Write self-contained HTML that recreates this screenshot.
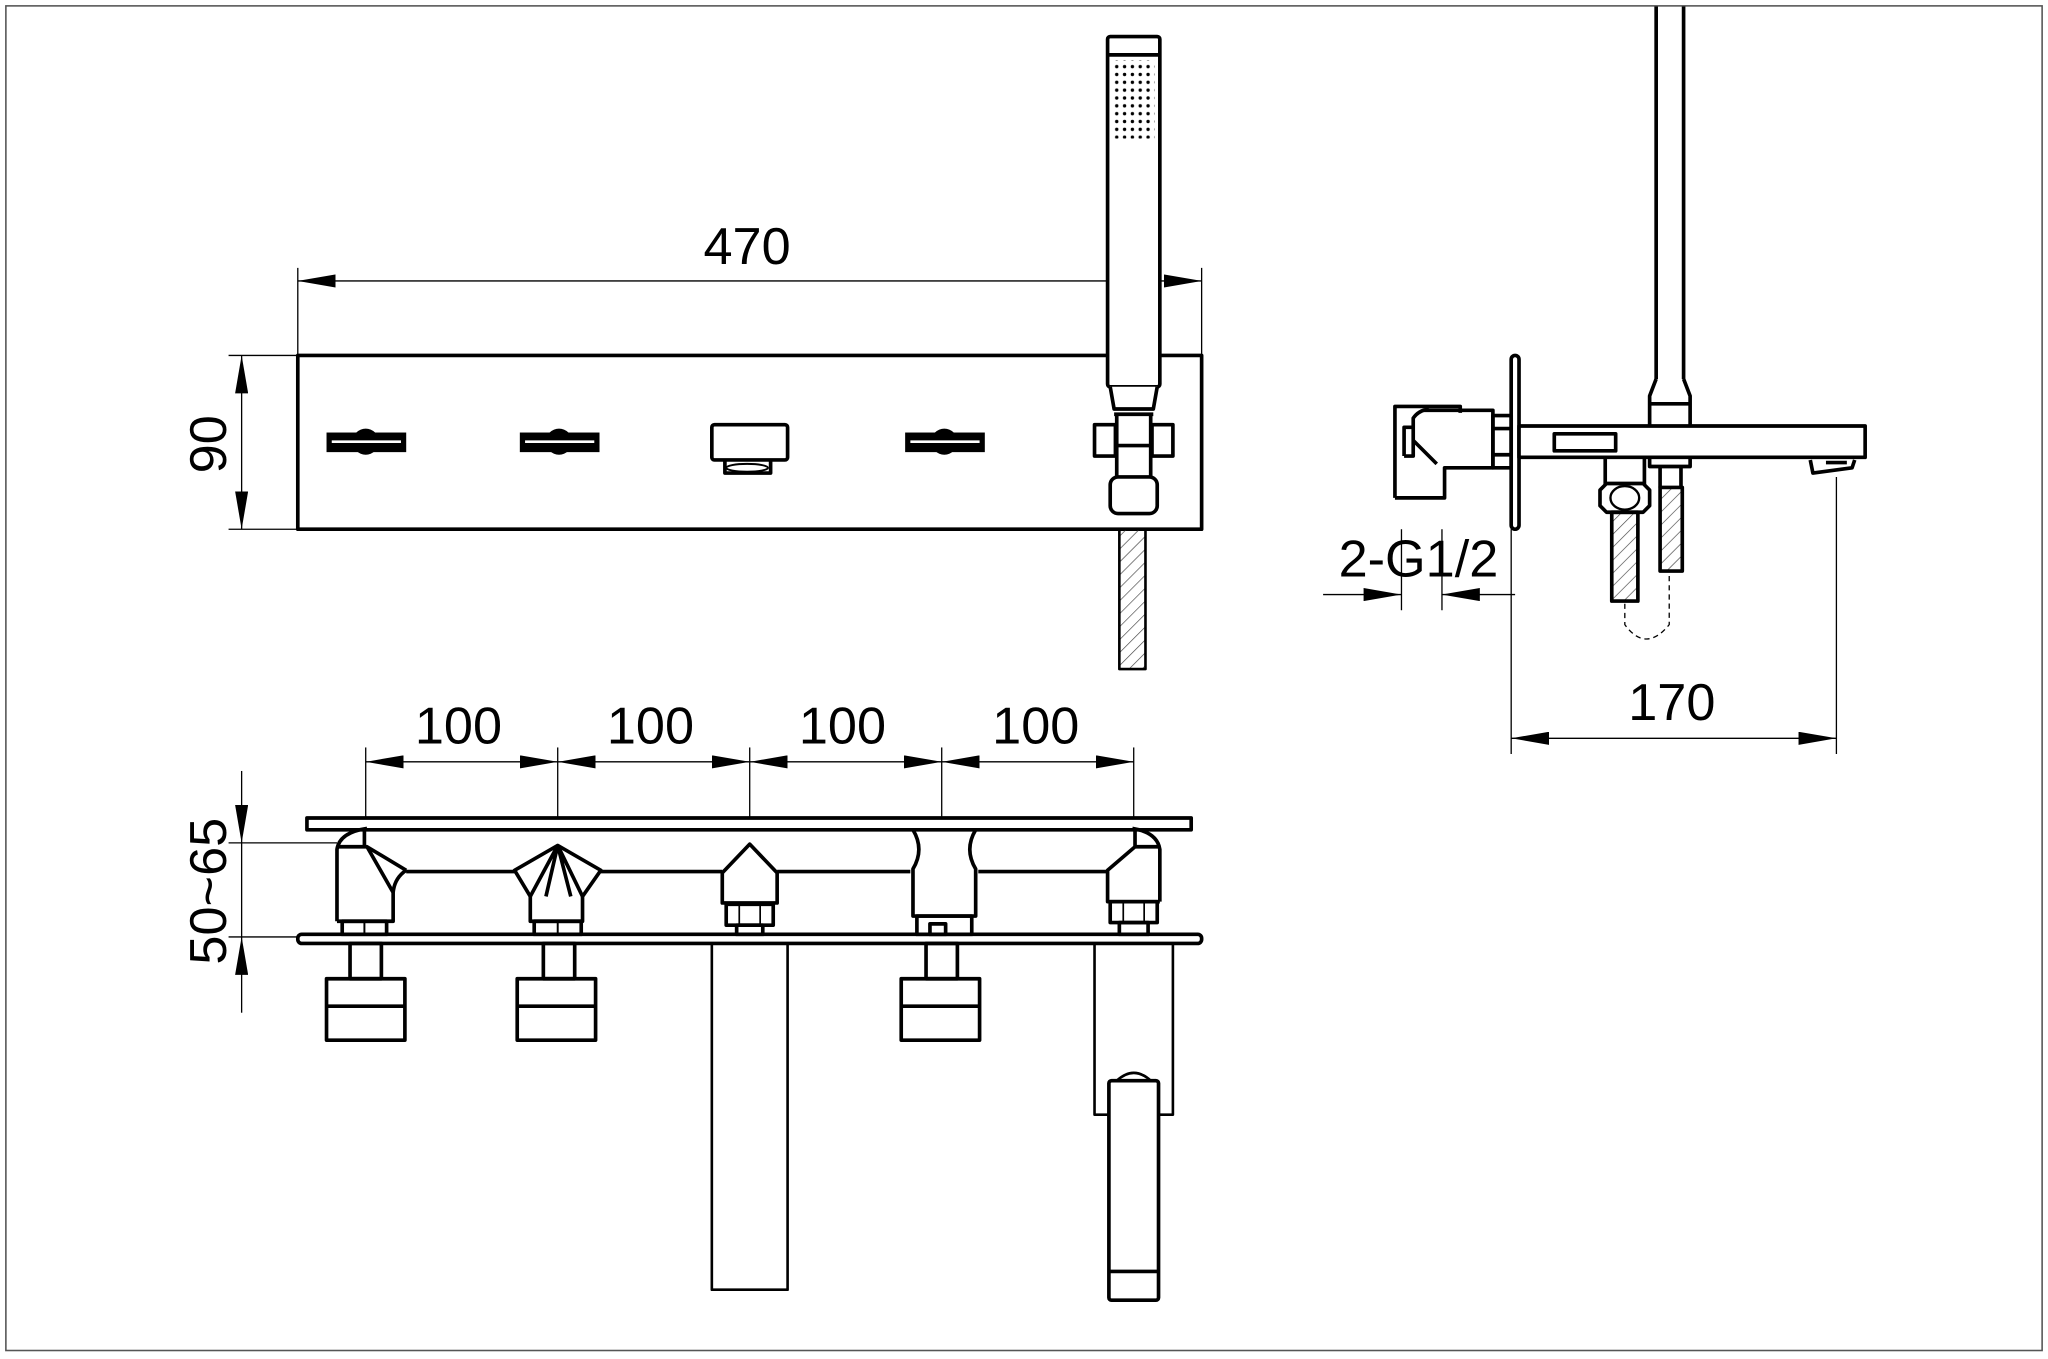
<!DOCTYPE html>
<html><head><meta charset="utf-8"><style>
html,body{margin:0;padding:0;background:#fff;}
svg{display:block;}
text{font-family:"Liberation Sans",sans-serif;fill:#000;}
</style></head><body>
<svg width="2048" height="1359" viewBox="0 0 1568 1040" preserveAspectRatio="none" xmlns="http://www.w3.org/2000/svg">
<defs>
<marker id="a" viewBox="0 0 10 10" refX="10" refY="5" markerWidth="29" markerHeight="10" markerUnits="userSpaceOnUse" orient="auto-start-reverse" preserveAspectRatio="none"><path d="M0,0 L10,5 L0,10 z" fill="#000"/></marker>
<pattern id="h" width="7" height="7" patternUnits="userSpaceOnUse" patternTransform="rotate(45)"><line x1="0" y1="0" x2="0" y2="7" stroke="#444" stroke-width="1"/></pattern>
<pattern id="dots" width="6" height="6" patternUnits="userSpaceOnUse"><circle cx="3" cy="3" r="1.3" fill="#000"/></pattern>
</defs>
<rect x="0" y="0" width="1568" height="1040" fill="#fff"/>
<rect x="4.5" y="4.5" width="1559" height="1029" fill="none" stroke="#555" stroke-width="1.2"/>

<g fill="none" stroke="#000" stroke-width="1">
<line x1="228" y1="205" x2="228" y2="272"/><line x1="920" y1="205" x2="920" y2="272"/>
<line x1="228" y1="215" x2="920" y2="215" marker-start="url(#a)" marker-end="url(#a)"/>
<line x1="175" y1="272" x2="228" y2="272"/><line x1="175" y1="405" x2="228" y2="405"/>
<line x1="185" y1="272" x2="185" y2="405" marker-start="url(#a)" marker-end="url(#a)"/>
<line x1="280" y1="572" x2="280" y2="625"/><line x1="427" y1="572" x2="427" y2="625"/>
<line x1="574" y1="572" x2="574" y2="625"/><line x1="721" y1="572" x2="721" y2="625"/>
<line x1="868" y1="572" x2="868" y2="625"/>
<line x1="280" y1="583" x2="427" y2="583" marker-start="url(#a)" marker-end="url(#a)"/>
<line x1="427" y1="583" x2="574" y2="583" marker-start="url(#a)" marker-end="url(#a)"/>
<line x1="574" y1="583" x2="721" y2="583" marker-start="url(#a)" marker-end="url(#a)"/>
<line x1="721" y1="583" x2="868" y2="583" marker-start="url(#a)" marker-end="url(#a)"/>
<line x1="175" y1="645" x2="258" y2="645"/><line x1="175" y1="717" x2="228" y2="717"/>
<line x1="185" y1="590" x2="185" y2="645" marker-end="url(#a)"/>
<line x1="185" y1="645" x2="185" y2="717"/>
<line x1="185" y1="775" x2="185" y2="717" marker-end="url(#a)"/>
<line x1="1157" y1="405" x2="1157" y2="577"/><line x1="1406" y1="365" x2="1406" y2="577"/>
<line x1="1157" y1="565" x2="1406" y2="565" marker-start="url(#a)" marker-end="url(#a)"/>
<line x1="1073" y1="405" x2="1073" y2="467"/><line x1="1104" y1="405" x2="1104" y2="467"/>
<line x1="1013" y1="455" x2="1073" y2="455" marker-end="url(#a)"/>
<line x1="1160" y1="455" x2="1104" y2="455" marker-end="url(#a)"/>
</g>

<text x="572" y="202" font-size="40" text-anchor="middle">470</text>
<text transform="translate(173,340) rotate(-90)" font-size="40" text-anchor="middle">90</text>
<text x="351" y="569" font-size="40" text-anchor="middle">100</text>
<text x="498" y="569" font-size="40" text-anchor="middle">100</text>
<text x="645" y="569" font-size="40" text-anchor="middle">100</text>
<text x="793" y="569" font-size="40" text-anchor="middle">100</text>
<text transform="translate(173,682) rotate(-90)" font-size="40" text-anchor="middle">50~65</text>
<text x="1280" y="551" font-size="40" text-anchor="middle">170</text>
<text x="1086" y="441" font-size="40" text-anchor="middle">2-G1/2</text>

<g fill="none" stroke="#000" stroke-width="2.8" stroke-linejoin="round">
<rect x="228" y="272" width="692" height="133" fill="#fff"/>
<g fill="#000" stroke="none">
<rect x="250" y="331" width="61" height="15"/><circle cx="280" cy="338" r="10"/>
<rect x="398" y="331" width="61" height="15"/><circle cx="428" cy="338" r="10"/>
<rect x="693" y="331" width="61" height="15"/><circle cx="723" cy="338" r="10"/>
</g>
<g stroke="#fff" stroke-width="2"><line x1="254" y1="338" x2="307" y2="338"/><line x1="402" y1="338" x2="455" y2="338"/><line x1="697" y1="338" x2="750" y2="338"/></g>
<rect x="545" y="325" width="58" height="27" rx="2"/>
<path d="M555,352 v10 h35 v-10"/><ellipse cx="572" cy="358" rx="16" ry="3" stroke-width="1.5"/>
<rect x="848" y="28" width="40" height="268" rx="2" fill="#fff"/>
<line x1="849" y1="42" x2="887" y2="42"/>
<rect x="853" y="46" width="31" height="60" fill="url(#dots)" stroke="none"/>
<path d="M850,296 L853,313 H883 L886,296" fill="#fff"/>
<line x1="853" y1="317" x2="883" y2="317"/>
<rect x="838" y="325" width="16" height="24" fill="#fff"/><rect x="882" y="325" width="16" height="24" fill="#fff"/>
<line x1="854" y1="341" x2="882" y2="341"/>
<line x1="855" y1="317" x2="855" y2="365"/><line x1="881" y1="317" x2="881" y2="365"/>
<rect x="850" y="365" width="36" height="28" rx="6" fill="#fff"/>
<rect x="857" y="405" width="20" height="107" fill="url(#h)" stroke-width="2"/>

<!-- FRONT VIEW -->
<rect x="235" y="626" width="677" height="9" fill="#fff"/>
<rect x="228" y="715" width="692" height="7" rx="3" fill="#fff"/>
<path d="M311,667 H394 M460,667 H553 M595,667 H697 M749,667 H848"/>
<!-- body1 -->
<path d="M258,705 V650 Q260,637 281,634 M279,635 V648 M258,648 H281 L311,666 M281,648 L301,683 V705 H258" />
<path d="M311,666 Q302,672 301,683"/>
<rect x="262" y="705" width="34" height="10"/><line x1="279" y1="705" x2="279" y2="715" stroke-width="1.5"/>
<!-- body2 -->
<path d="M406,705 V686 L394,666 L427,647 L460,666 L446,686 V705 Z"/>
<path d="M427,647 L406,686 M427,647 L446,686 M427,647 L418,686 M427,647 L437,686"/>
<rect x="409" y="705" width="36" height="10"/><line x1="427" y1="705" x2="427" y2="715" stroke-width="1.5"/>
<!-- body3 -->
<path d="M553,668 L574,646 L595,668 V691 H553 Z"/>
<rect x="556" y="692" width="36" height="16"/><rect x="564" y="708" width="20" height="7"/>
<line x1="566" y1="692" x2="566" y2="708" stroke-width="1.3"/><line x1="582" y1="692" x2="582" y2="708" stroke-width="1.3"/>
<!-- body4 -->
<path d="M699,635 Q708,650 699,665 V701 H747 V665 Q738,650 747,635"/>
<rect x="702" y="701" width="42" height="14"/><rect x="712" y="707" width="12" height="8"/>
<!-- body5 -->
<path d="M888,690 V650 Q886,637 867,634 M869,635 V648 M888,648 H869 L848,666 M869,648 L848,666 V690 H888"/>
<rect x="850" y="690" width="36" height="16"/><rect x="857" y="706" width="22" height="9"/>
<line x1="860" y1="690" x2="860" y2="706" stroke-width="1.3"/><line x1="876" y1="690" x2="876" y2="706" stroke-width="1.3"/>
<!-- below -->
<rect x="268" y="722" width="24" height="27"/><rect x="250" y="749" width="60" height="47"/><line x1="250" y1="770" x2="310" y2="770"/>
<rect x="416" y="722" width="24" height="27"/><rect x="396" y="749" width="60" height="47"/><line x1="396" y1="770" x2="456" y2="770"/>
<rect x="709" y="722" width="24" height="27"/><rect x="690" y="749" width="60" height="47"/><line x1="690" y1="770" x2="750" y2="770"/>
<path d="M545,722 V987 H603 V722" stroke-width="2"/>
<path d="M838,722 V853 H849 M887,853 H898 V722" stroke-width="2"/>
<rect x="849" y="827" width="38" height="168" rx="2" fill="#fff"/>
<path d="M855,827 Q868,815 881,827" stroke-width="2"/>
<line x1="849" y1="973" x2="887" y2="973"/>

<!-- SIDE VIEW -->
<rect x="1157" y="272" width="6" height="133" rx="3" fill="#fff"/>
<path d="M1068,381 V311 H1118 V316 M1068,381 H1106 V358 H1143 V314 H1090"/>
<path d="M1075,349 V327 H1082 M1075,349 H1082 V320 Q1086,314 1094,313 M1082,337 L1100,355"/>
<rect x="1143" y="318" width="14" height="40"/>
<line x1="1143" y1="328" x2="1157" y2="328"/><line x1="1143" y1="348" x2="1157" y2="348"/>
<rect x="1163" y="326" width="265" height="24" fill="#fff"/>
<rect x="1190" y="332" width="47" height="13"/>
<path d="M1268,5 V290 M1289,5 V290 M1268,290 L1263,303 V326 M1289,290 L1294,303 V326 M1263,309 H1294"/>
<path d="M1263,350 V357 H1294 V350 M1271,357 V373 M1287,357 V373"/>
<rect x="1271" y="373" width="17" height="64" fill="url(#h)"/>
<path d="M1229,350 V371 M1259,350 V371"/>
<path d="M1225,375 L1230,370 H1258 L1263,375 V387 L1258,392 H1230 L1225,387 Z"/>
<ellipse cx="1244" cy="381" rx="11" ry="9" stroke-width="1.8"/>
<rect x="1234" y="392" width="20" height="68" fill="url(#h)"/>
<path d="M1244,462 V478 Q1260,500 1278,478 V440" stroke-dasharray="4,3" stroke-width="1"/>
<path d="M1386,352 L1388,362 L1418,358 L1420,352"/>
<line x1="1398" y1="354" x2="1414" y2="354"/>
</g>
</svg>
</body></html>
